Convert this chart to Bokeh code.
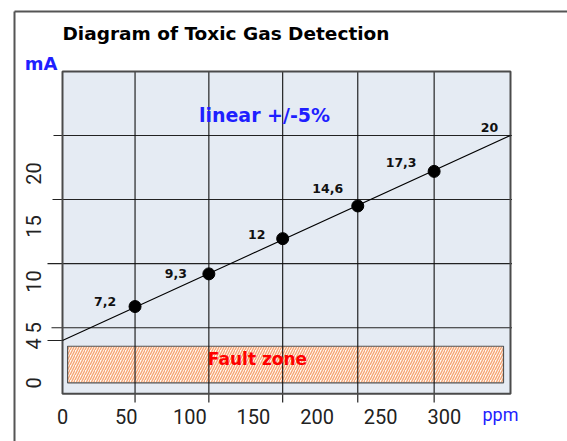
import math
from bokeh.plotting import figure
from bokeh.models import Range1d, ColumnDataSource
from bokeh.core.properties import value
from bokeh.embed import file_html
from bokeh.resources import INLINE

# ---------------- data ----------------
ppm_ticks = [0, 50, 100, 150, 200, 250, 300]
ppm_tick_labels = ["0", "50", "100", "150", "200", "250", "300"]
ma_tick_labels = ["0", "4", "5", "10", "15", "20"]
grid_ma = [5, 10, 15, 20]
point_ppm = [57, 115, 173, 232, 292]
point_ma = [6.65, 9.2, 11.95, 14.5, 17.2]
point_labels = ["7,2", "9,3", "12", "14,6", "17,3"]
line_ppm = [0, 352]
line_ma = [4, 20]
end_label = "20"
fault_ma = [0.7, 3.55]
fault_ppm = [4, 346.5]
plot_ppm = [0, 352]
plot_ma = [-0.16, 25.0]

# ---------------- layout (page pixels -> data) ----------------
W, H = 567, 441
OFF = 0                   # page offset of the canvas
SX = 448 / 352.0          # px per ppm
SY = 12.8125              # px per mA
X0 = 62.0                 # page x of 0 ppm
Y0 = 391.25               # page y of 0 mA


def dx(px):
    return (px - X0) / SX


def dy(py):
    return (Y0 - py) / SY


p = figure(width=W, height=H, output_backend="svg", toolbar_location=None,
           x_range=Range1d(dx(OFF), dx(OFF + W)), y_range=Range1d(dy(OFF + H), dy(OFF)),
           x_axis_location=None, y_axis_location=None, min_border=0,
           background_fill_color="white", border_fill_color="white")
p.outline_line_color = None
p.grid.visible = False

# outer frame (top and left edges)
p.segment(x0=[dx(14), dx(14)], y0=[dy(H), dy(11)], x1=[dx(14), dx(W)], y1=[dy(11), dy(11)],
          line_color="#555555", line_width=2)

# plot area
p.quad(left=[plot_ppm[0]], right=[plot_ppm[1]], bottom=[plot_ma[0]], top=[plot_ma[1]],
       fill_color="#e5ebf3", line_color=None)

# fault zone
p.quad(left=[fault_ppm[0]], right=[fault_ppm[1]], bottom=[fault_ma[0]], top=[fault_ma[1]],
       fill_color="#fffaf6", hatch_pattern="/", hatch_color="#f6a574", hatch_scale=5,
       hatch_weight=1.4, line_color="#555555", line_width=1.2)

# horizontal grid lines (extend left beyond the plot like ticks)
grid_left_px = [51, 47, 52, 53]
p.segment(x0=[dx(v) for v in grid_left_px], y0=grid_ma,
          x1=[dx(511.5)] * len(grid_ma), y1=grid_ma,
          line_color="#222222", line_width=1.1)
# short tick at 4 mA
p.segment(x0=[dx(47)], y0=[line_ma[0]], x1=[line_ppm[0]], y1=[line_ma[0]],
          line_color="#222222", line_width=1.1)

# vertical grid lines at the measuring points
p.segment(x0=point_ppm, y0=[dy(402)] * len(point_ppm), x1=point_ppm,
          y1=[plot_ma[1]] * len(point_ppm), line_color="#111111", line_width=1.1)

# plot area border
p.quad(left=[plot_ppm[0]], right=[plot_ppm[1]], bottom=[plot_ma[0]], top=[plot_ma[1]],
       fill_color=None, line_color="#4a4a4a", line_width=2)

# characteristic line and points
p.line(line_ppm, line_ma, line_color="black", line_width=1.1)
p.scatter(point_ppm, point_ma, size=12, fill_color="black", line_color="black")

# point labels
lab_src = ColumnDataSource(dict(
    x=point_ppm + [line_ppm[1]],
    y=point_ma + [line_ma[1]],
    t=point_labels + [end_label],
    xo=[-30, -33, -26, -30, -33, -21],
    yo=[-5, 0, -4, -17, -9, -8],
))
p.text(x="x", y="y", text="t", x_offset="xo", y_offset="yo", source=lab_src,
       text_font=value("DejaVu Sans"), text_font_style="bold", text_font_size="12.5px",
       text_color="#111111", text_align="center", text_baseline="middle")

# x tick labels
p.text(x=ppm_ticks, y=[dy(415.5)] * len(ppm_ticks), text=ppm_tick_labels,
       text_font=value("Roboto"), text_font_size="20px", text_color="#222222",
       text_align="center", text_baseline="middle")
p.text(x=[dx(500)], y=[dy(414)], text=["ppm"],
       text_font=value("Roboto"), text_font_size="18px", text_color="#1f1fff",
       text_align="center", text_baseline="middle")

# y tick labels (rotated)
ma_label_py = [382.5, 343.5, 327.5, 281, 226, 173]
p.text(x=[dx(32.5)] * len(ma_tick_labels), y=[dy(v) for v in ma_label_py],
       text=ma_tick_labels, angle=math.pi / 2,
       text_font=value("Roboto"), text_font_size="20px", text_color="#222222",
       text_align="center", text_baseline="middle")

# titles / annotations
p.text(x=[dx(62)], y=[dy(33)], text=["Diagram of Toxic Gas Detection"],
       text_font=value("DejaVu Sans"), text_font_style="bold", text_font_size="18.5px",
       text_color="black", text_align="left", text_baseline="middle")
p.text(x=[dx(40.5)], y=[dy(63)], text=["mA"],
       text_font=value("DejaVu Sans"), text_font_style="bold", text_font_size="18px",
       text_color="#1f1fff", text_align="center", text_baseline="middle")
p.text(x=[dx(264)], y=[dy(114)], text=["linear +/-5%"],
       text_font=value("DejaVu Sans"), text_font_style="bold", text_font_size="19px",
       text_color="#1f1fff", text_align="center", text_baseline="middle")
p.text(x=[dx(257)], y=[dy(358)], text=["Fault zone"],
       text_font=value("DejaVu Sans"), text_font_style="bold", text_font_size="17px",
       text_color="#ff0000", text_align="center", text_baseline="middle")

open("out.html", "w").write(file_html(p, INLINE))
